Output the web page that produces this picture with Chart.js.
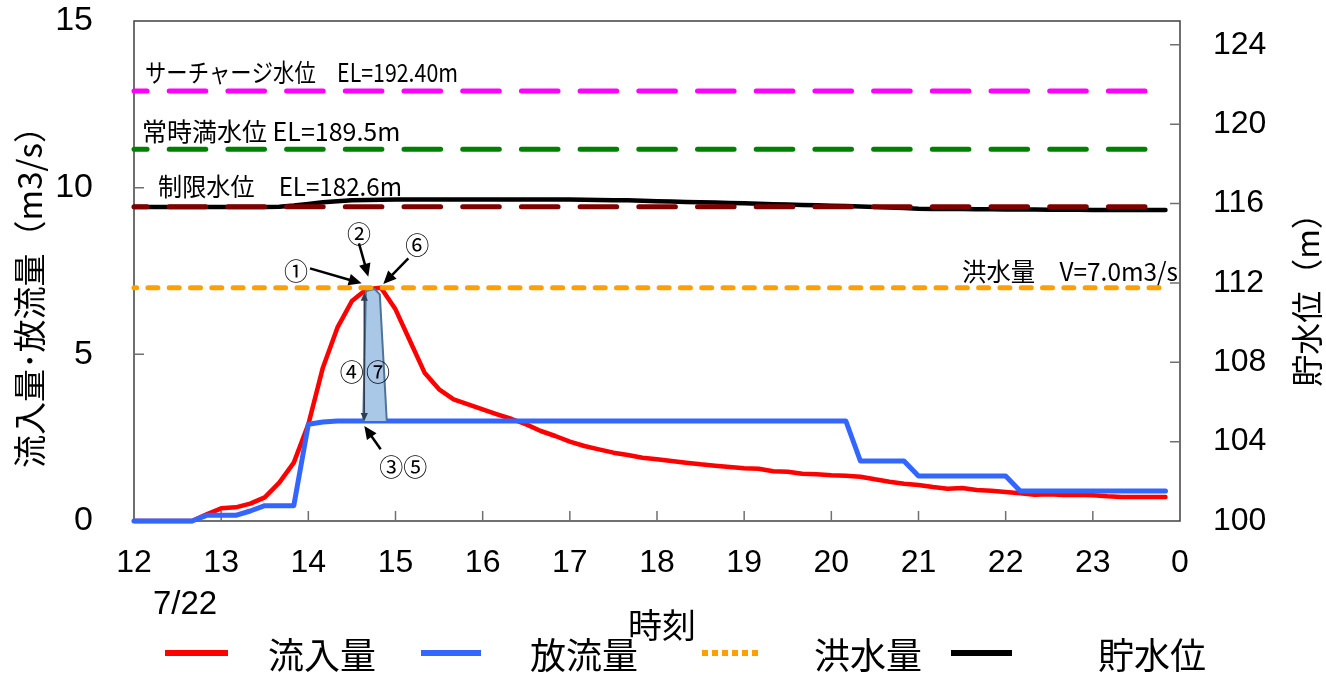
<!DOCTYPE html>
<html>
<head>
<meta charset="utf-8">
<script src="https://cdn.jsdelivr.net/npm/chart.js@4.4.0/dist/chart.umd.min.js"></script>
<style>
html, body { margin: 0; padding: 0; background: #fff; }
</style>
</head>
<body>
<canvas id="myChart" width="1326" height="673"></canvas>
<script>
// 10分毎の時刻
const times = [
    '12:00','12:10','12:20','12:30','12:40','12:50',
    '13:00','13:10','13:20','13:30','13:40','13:50',
    '14:00','14:10','14:20','14:30','14:40','14:50',
    '15:00','15:10','15:20','15:30','15:40','15:50',
    '16:00','16:10','16:20','16:30','16:40','16:50',
    '17:00','17:10','17:20','17:30','17:40','17:50',
    '18:00','18:10','18:20','18:30','18:40','18:50',
    '19:00','19:10','19:20','19:30','19:40','19:50',
    '20:00','20:10','20:20','20:30','20:40','20:50',
    '21:00','21:10','21:20','21:30','21:40','21:50',
    '22:00','22:10','22:20','22:30','22:40','22:50',
    '23:00','23:10','23:20','23:30','23:40','23:50'
]

// 流入量 (m3/s)
const inflow = [
    0, 0, 0, 0, 0, 0.2,
    0.38, 0.41, 0.52, 0.71, 1.15, 1.75,
    2.9, 4.6, 5.8, 6.6, 6.95, 7.0,
    6.35, 5.4, 4.45, 3.95, 3.65, 3.5,
    3.35, 3.2, 3.06, 2.9, 2.7, 2.55,
    2.38, 2.25, 2.15, 2.05, 1.98, 1.9,
    1.85, 1.8, 1.75, 1.7, 1.66, 1.62,
    1.58, 1.57, 1.49, 1.48, 1.42, 1.4,
    1.37, 1.36, 1.33, 1.25, 1.18, 1.12,
    1.08, 1.02, 0.97, 0.99, 0.93, 0.91,
    0.87, 0.83, 0.79, 0.8, 0.78, 0.79,
    0.77, 0.74, 0.72, 0.72, 0.72, 0.72
]

// 放流量 (m3/s)
const outflow = [
    0, 0, 0, 0, 0, 0.17,
    0.17, 0.17, 0.3, 0.46, 0.46, 0.46,
    2.9, 2.97, 3, 3, 3, 3,
    3, 3, 3, 3, 3, 3,
    3, 3, 3, 3, 3, 3,
    3, 3, 3, 3, 3, 3,
    3, 3, 3, 3, 3, 3,
    3, 3, 3, 3, 3, 3,
    3, 3, 1.8, 1.8, 1.8, 1.8,
    1.35, 1.35, 1.35, 1.35, 1.35, 1.35,
    1.35, 0.9, 0.9, 0.9, 0.9, 0.9,
    0.9, 0.9, 0.9, 0.9, 0.9, 0.9
]

// 貯水位 (m)
const level = [
    115.82, 115.82, 115.82, 115.82, 115.82, 115.82,
    115.82, 115.82, 115.82, 115.82, 115.84, 115.90,
    115.98, 116.06, 116.12, 116.16, 116.18, 116.19,
    116.20, 116.20, 116.20, 116.20, 116.20, 116.20,
    116.20, 116.20, 116.20, 116.20, 116.20, 116.20,
    116.20, 116.19, 116.18, 116.17, 116.16, 116.14,
    116.12, 116.10, 116.08, 116.07, 116.05, 116.03,
    116.01, 115.99, 115.97, 115.95, 115.93, 115.91,
    115.89, 115.87, 115.85, 115.82, 115.80, 115.77,
    115.74, 115.73, 115.72, 115.72, 115.71, 115.71,
    115.70, 115.70, 115.70, 115.69, 115.69, 115.69,
    115.68, 115.68, 115.68, 115.68, 115.68, 115.68
]

// 洪水量と各水位 (右軸の目盛で)
const floodFlow = 7.0
const surchargeLevel = 121.67
const normalLevel = 118.73
const limitLevel = 115.84

// 放流量を絞った範囲
const shadeX = [14.63, 14.66, 14.76, 14.82, 14.90]
const shadeY = [3.0, 6.9, 6.96, 6.8, 3.0]

const xTicks = [12, 13, 14, 15, 16, 17, 18, 19, 20, 21, 22, 23, 24]
const xTickLabels = ['12', '13', '14', '15', '16', '17', '18', '19', '20', '21', '22', '23', '0']

// 丸数字と矢印 (データ座標)
const marks = [
    {text: '①', x: 13.858, y: 7.51},
    {text: '②', x: 14.581, y: 8.61},
    {text: '⑥', x: 15.25, y: 8.28},
    {text: '③⑤', x: 15.089, y: 1.63},
    {text: '④', x: 14.497, y: 4.48},
    {text: '⑦', x: 14.80, y: 4.48}
]
const arrows = [
    [14.019, 7.58, 14.612, 7.13],
    [14.581, 8.33, 14.688, 7.33],
    [15.147, 7.88, 14.86, 7.11],
    [14.83, 2.15, 14.642, 2.85]
]
const bothArrow = [14.642, 3.0, 14.642, 6.85]

const JP = '"Noto Sans CJK JP", "Noto Sans", sans-serif'
const NUM = '"Liberation Sans", Arial, sans-serif'

const hourOf = s => { const [h, m] = s.split(':').map(Number); return h + m / 60 }
const xs = times.map(hourOf)
const toXY = arr => arr.map((v, i) => ({x: xs[i], y: v}))
const flat = v => [{x: xs[0], y: v}, {x: xs[xs.length - 1], y: v}]

const drawArrow = (ctx, x0, y0, x1, y1, head) => {
    const a = Math.atan2(y1 - y0, x1 - x0)
    const c = Math.cos(a), s = Math.sin(a)
    ctx.beginPath()
    ctx.moveTo(x0, y0)
    ctx.lineTo(x1 - c * head * 0.8, y1 - s * head * 0.8)
    ctx.stroke()
    ctx.beginPath()
    ctx.moveTo(x1, y1)
    ctx.lineTo(x1 - head * c + head * 0.45 * s, y1 - head * s - head * 0.45 * c)
    ctx.lineTo(x1 - head * c - head * 0.45 * s, y1 - head * s + head * 0.45 * c)
    ctx.closePath()
    ctx.fill()
}

// 枠と内向きの目盛
const framePlugin = {
    id: 'frame',
    beforeDatasetsDraw(chart) {
        const {ctx, chartArea: a, scales} = chart
        ctx.save()
        ctx.strokeStyle = '#404040'
        ctx.lineWidth = 1.5
        ctx.strokeRect(a.left, a.top, a.right - a.left, a.bottom - a.top)
        ctx.strokeStyle = '#707070'
        ctx.beginPath()
        scales.x.ticks.forEach(t => {
            const p = scales.x.getPixelForValue(t.value)
            if (p <= a.left + 1 || p >= a.right - 1) return
            ctx.moveTo(p, a.bottom); ctx.lineTo(p, a.bottom - 10)
        })
        scales.y.ticks.forEach(t => {
            const p = scales.y.getPixelForValue(t.value)
            if (p <= a.top + 1 || p >= a.bottom - 1) return
            ctx.moveTo(a.left, p); ctx.lineTo(a.left + 10, p)
        })
        scales.y1.ticks.forEach(t => {
            const p = scales.y1.getPixelForValue(t.value)
            if (p <= a.top + 1 || p >= a.bottom - 1) return
            ctx.moveTo(a.right, p); ctx.lineTo(a.right - 10, p)
        })
        ctx.stroke()
        ctx.restore()
    }
}

// 注記
const notePlugin = {
    id: 'notes',
    afterDatasetsDraw(chart) {
        const {ctx, chartArea: a, scales} = chart
        const {x, y, y1} = scales
        ctx.save()
        ctx.fillStyle = '#000'
        ctx.textBaseline = 'middle'
        ctx.font = '25px ' + JP
        ctx.textAlign = 'left'
        ctx.fillText('サーチャージ水位　EL=192.40m', a.left + 11, y1.getPixelForValue(surchargeLevel) - 18.5, 313)
        ctx.fillText('常時満水位 EL=189.5m', a.left + 8, y1.getPixelForValue(normalLevel) - 17.5, 260)
        ctx.fillText('制限水位　EL=182.6m', a.left + 24, y1.getPixelForValue(limitLevel) - 20.5, 244)
        ctx.textAlign = 'right'
        ctx.fillText('洪水量　V=7.0m3/s', a.right - 2, y.getPixelForValue(floodFlow) - 16, 216)

        ctx.font = '24px ' + JP
        ctx.textAlign = 'center'
        marks.forEach(m => ctx.fillText(m.text, x.getPixelForValue(m.x), y.getPixelForValue(m.y)))

        ctx.strokeStyle = '#000'
        ctx.lineWidth = 2.5
        arrows.forEach(([x0, v0, x1, v1]) => {
            drawArrow(ctx, x.getPixelForValue(x0), y.getPixelForValue(v0), x.getPixelForValue(x1), y.getPixelForValue(v1), 13)
        })
        const [bx0, bv0, bx1, bv1] = bothArrow
        const px0 = x.getPixelForValue(bx0), py0 = y.getPixelForValue(bv0)
        const px1 = x.getPixelForValue(bx1), py1 = y.getPixelForValue(bv1)
        ctx.strokeStyle = '#2d3e55'
        ctx.fillStyle = '#2d3e55'
        ctx.lineWidth = 1.5
        const my = (py0 + py1) / 2
        drawArrow(ctx, px0, my, px0, py0, 8)
        drawArrow(ctx, px1, my, px1, py1, 8)
        ctx.restore()
    },
    afterDraw(chart) {
        const {ctx, scales} = chart
        ctx.save()
        ctx.fillStyle = '#000'
        ctx.textBaseline = 'middle'
        ctx.textAlign = 'center'

        ctx.font = '33px ' + NUM
        ctx.fillText('7/22', scales.x.getPixelForValue(12) + 51, 605)

        ctx.font = '34px ' + JP
        ctx.fillText('時刻', 662, 625)

        ctx.font = '33px ' + JP
        ctx.save()
        ctx.translate(29, 289)
        ctx.rotate(-Math.PI / 2)
        ctx.fillText('流入量･放流量（m3/s）', 0, 0)
        ctx.restore()
        ctx.font = '32px ' + JP
        ctx.save()
        ctx.translate(1307, 292)
        ctx.rotate(-Math.PI / 2)
        ctx.fillText('貯水位（m）', 0, 0)
        ctx.restore()

        // 凡例
        const items = [
            {ds: 0, x0: 165, x1: 228, tx: 268},
            {ds: 1, x0: 421, x1: 481, tx: 530},
            {ds: 2, x0: 702, x1: 761, tx: 814, dash: [6, 4]},
            {ds: 3, x0: 951, x1: 1012, tx: 1098}
        ]
        const ly = 653
        ctx.font = '36px ' + JP
        ctx.textAlign = 'left'
        items.forEach(it => {
            const d = chart.data.datasets[it.ds]
            ctx.save()
            ctx.strokeStyle = d.borderColor
            ctx.lineWidth = 6
            ctx.lineCap = 'butt'
            ctx.setLineDash(it.dash || [])
            ctx.beginPath()
            ctx.moveTo(it.x0, ly)
            ctx.lineTo(it.x1, ly)
            ctx.stroke()
            ctx.restore()
            ctx.fillText(d.label, it.tx, ly + 2)
        })
        ctx.restore()
    }
}

const lineBase = {pointRadius: 0, tension: 0, clip: false, borderJoinStyle: 'round', borderCapStyle: 'round', fill: false}

const noPadY = (w) => s => { s.width = w; s.paddingTop = 0; s.paddingBottom = 0 }

new Chart(document.getElementById('myChart'), {
    type: 'line',
    data: {
        datasets: [
            {...lineBase, label: '流入量', data: toXY(inflow), borderColor: '#ff0000', borderWidth: 4.5, yAxisID: 'y', order: 3},
            {...lineBase, label: '放流量', data: toXY(outflow), borderColor: '#3366ff', borderWidth: 5, yAxisID: 'y', order: 2},
            {...lineBase, label: '洪水量', data: flat(floodFlow), borderColor: '#ffa000', borderWidth: 5,
                borderDash: [10, 11.3], borderDashOffset: 7.4, yAxisID: 'y', order: 0},
            {...lineBase, label: '貯水位', data: toXY(level), borderColor: '#000000', borderWidth: 4.5, yAxisID: 'y1', order: 4},
            {...lineBase, label: 'サーチャージ水位', data: flat(surchargeLevel), borderColor: '#ff00ff', borderWidth: 5,
                borderDash: [36.6, 22.1], borderDashOffset: 23.5, yAxisID: 'y1', order: 0},
            {...lineBase, label: '常時満水位', data: flat(normalLevel), borderColor: '#008000', borderWidth: 5,
                borderDash: [36.6, 22.1], borderDashOffset: 23.5, yAxisID: 'y1', order: 0},
            {...lineBase, label: '制限水位', data: flat(limitLevel), borderColor: '#800000', borderWidth: 5,
                borderDash: [36.6, 22.1], borderDashOffset: 23.5, yAxisID: 'y1', order: 0},
            {...lineBase, label: 'shade', data: shadeX.map((v, i) => ({x: v, y: shadeY[i]})),
                borderColor: '#4f7399', borderWidth: 2, backgroundColor: '#a9c8e8',
                fill: {value: 3.0}, borderCapStyle: 'butt', yAxisID: 'y', order: 1}
        ]
    },
    options: {
        responsive: false,
        animation: false,
        layout: {padding: {top: 21, left: 0, right: 0, bottom: 0}},
        plugins: {legend: {display: false}, tooltip: {enabled: false}},
        scales: {
            x: {
                type: 'linear', min: 12, max: 24,
                grid: {display: false, drawTicks: false},
                border: {display: false},
                afterBuildTicks: s => { s.ticks = xTicks.map(v => ({value: v})) },
                ticks: {
                    padding: 23, color: '#000', maxRotation: 0, autoSkip: false,
                    font: {family: NUM, size: 32},
                    callback: v => xTickLabels[xTicks.indexOf(v)]
                },
                afterFit: s => { s.height = 152; s.paddingLeft = 0; s.paddingRight = 0 }
            },
            y: {
                position: 'left', min: 0, max: 15,
                grid: {display: false, drawTicks: false},
                border: {display: false},
                ticks: {stepSize: 5, padding: 41, color: '#000', font: {family: NUM, size: 34}},
                afterFit: noPadY(134)
            },
            y1: {
                position: 'right', min: 100, max: 125.2,
                grid: {display: false, drawTicks: false},
                border: {display: false},
                ticks: {stepSize: 4, includeBounds: false, padding: 33, color: '#000', font: {family: NUM, size: 32}},
                afterFit: noPadY(146)
            }
        }
    },
    plugins: [framePlugin, notePlugin]
})
</script>
</body>
</html>
